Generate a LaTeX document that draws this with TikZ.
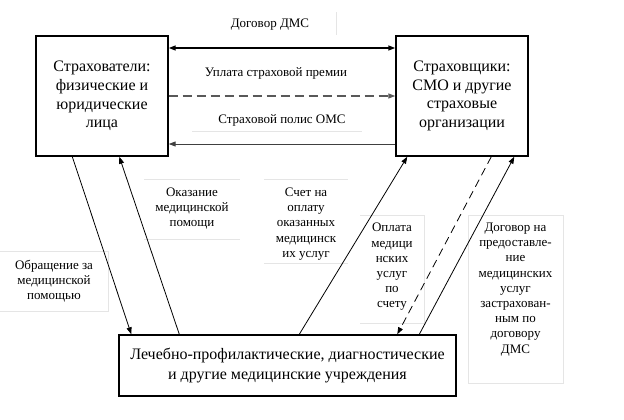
\documentclass[tikz,border=0pt]{standalone}
\usepackage{fontspec}
\setmainfont{Liberation Serif}
\usetikzlibrary{arrows.meta}
\begin{document}
\begin{tikzpicture}[x=1pt,y=-1pt,
  box/.style={draw, line width=1.4pt, align=center, font=\fontsize{16}{18.6}\selectfont, inner sep=0pt},
  lbl/.style={align=center, font=\fontsize{13}{15.2}\selectfont, inner sep=0pt},
  faint/.style={draw=black!10, line width=0.8pt},
  tip/.tip={Triangle[length=7pt,width=5pt]},
  arr/.style={-tip, line width=0.8pt},
  dsh/.style={dash pattern=on 8pt off 5pt},
]
\useasboundingbox (0,0) rectangle (624,420);

% main boxes
\node[box, minimum width=132pt, minimum height=120pt] (L) at (102,96) {Страхователи:\\физические и\\юридические\\лица};
\node[box, minimum width=132pt, minimum height=120pt] (R) at (462,96) {Страховщики:\\СМО и другие\\страховые\\организации};
\node[box, minimum width=337pt, minimum height=61pt, font=\fontsize{16}{19.5}\selectfont] (B) at (287.5,365.5) {Лечебно-профилактические, диагностические\\и другие медицинские учреждения};

% faint label frames
\draw[faint] (336,12) -- (336,35);
\draw[faint] (192,131) -- (362,131);
\draw[faint] (144,179) -- (240,179) (144,239) -- (240,239);
\draw[faint] (264,179) -- (348,179) (264,263) -- (348,263);
\draw[faint] (0,251) -- (108,251) -- (108,311) -- (0,311);
\draw[faint] (360,215) -- (424,215) -- (424,323) -- (360,323);
\draw[faint] (468,215) rectangle (563,383);

% labels
\node[lbl] (t1) at (270,25) {Договор ДМС};
\node[lbl] (t2) at (276,73) {Уплата страховой премии};
\node[lbl] (t3) at (282,120) {Страховой полис ОМС};
\node[lbl] (t4) at (192,208.5) {Оказание\\медицинской\\помощи};
\node[lbl] (t5) at (306,224) {Счет на\\оплату\\оказанных\\медицинск\\их услуг};
\node[lbl] (t6) at (54,281) {Обращение за\\медицинской\\помощью};
\node[lbl] (t7) at (392,267) {Оплата\\медици\\нских\\услуг\\по\\счету};
\node[lbl] (t8) at (515.5,289.5) {Договор на\\предоставле-\\ние\\медицинских\\услуг\\застрахован-\\ным по\\договору\\ДМС};

% horizontal connectors
\draw[line width=1.4pt, tip-tip] ([yshift=48pt]L.east) -- ([yshift=48pt]R.west);
\draw[black!65, line width=1.2pt, dash pattern=on 9pt off 5pt, -tip] (L.east) -- (R.west);
\draw[black!75, line width=1pt, -tip] ([yshift=-48pt]R.west) -- ([yshift=-48pt]L.east);

% diagonal connectors
\draw[arr] ([xshift=37pt]L.south west) -- ([xshift=13pt]B.north west);
\draw[arr] ([xshift=61pt]B.north west) -- ([xshift=84pt]L.south west);
\draw[arr] ([xshift=181pt]B.north west) -- ([xshift=12pt]R.south west);
\draw[arr, dsh] ([xshift=96pt]R.south west) -- ([xshift=279pt]B.north west);
\draw[arr] ([xshift=301pt]B.north west) -- ([xshift=119pt]R.south west);
\end{tikzpicture}
\end{document}
